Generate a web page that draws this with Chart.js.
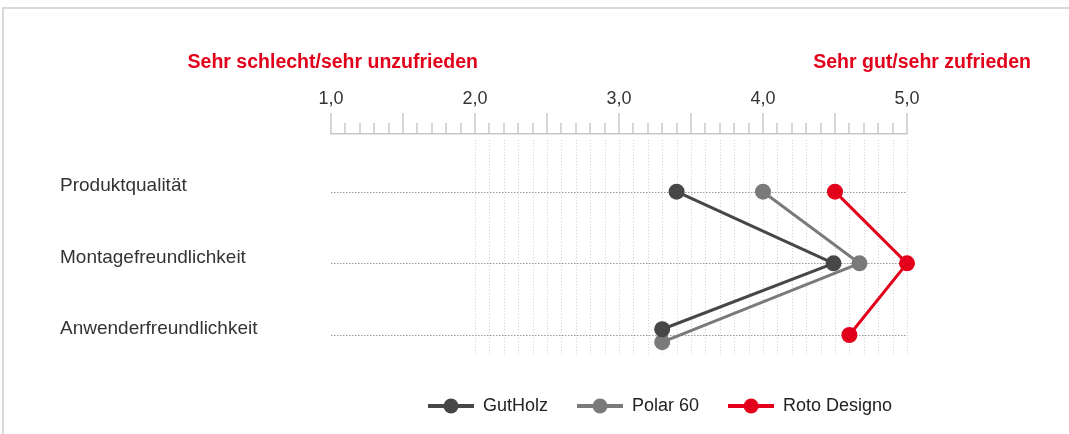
<!DOCTYPE html>
<html>
<head>
<meta charset="utf-8">
<script src="https://cdn.jsdelivr.net/npm/chart.js@4.4.0/dist/chart.umd.min.js"></script>
<style>
  html, body { margin: 0; padding: 0; background: #fff; }
  #wrap { position: relative; width: 1069px; height: 434px; overflow: hidden; }
  #frame { position: absolute; left: 2px; top: 7px; width: 1080px; height: 440px;
           border-top: 2px solid #d9d9d9; border-left: 2px solid #d9d9d9; }
  #chart { position: absolute; left: 0; top: 0; }
</style>
</head>
<body>
<div id="wrap">
  <div id="frame"></div>
  <canvas id="chart" width="1069" height="434"></canvas>
</div>
<script>
// rating scale 1..5, one row per category
const categories = ["Produktqualität", "Montagefreundlichkeit", "Anwenderfreundlichkeit"];
const seriesNames = ["GutHolz", "Polar 60", "Roto Designo"];
const gutholz = [3.4, 4.49, 3.3];
const polar60 = [4.0, 4.67, 3.3];
const rotoDesigno = [4.5, 5.0, 4.6];
const tickLabels = ["1,0", "2,0", "3,0", "4,0", "5,0"];
const scaleLeftText = "Sehr schlecht/sehr unzufrieden";
const scaleRightText = "Sehr gut/sehr zufrieden";

const FONT = '"Liberation Sans", Arial, sans-serif';
const colors = ["#474747", "#7a7a7a", "#e3001b"];
// small vertical nudge so overlapping points in the last row stay visible
const rowNudge = [[0, 0, -0.08], [0, 0, 0.1], [0, 0, 0]];

function makeIcon(color) {
  const c = document.createElement("canvas");
  c.width = 46;
  c.height = 16;
  const g = c.getContext("2d");
  g.strokeStyle = color;
  g.lineWidth = 4;
  g.beginPath();
  g.moveTo(0, 8);
  g.lineTo(46, 8);
  g.stroke();
  g.fillStyle = color;
  g.beginPath();
  g.arc(23, 8, 7.5, 0, Math.PI * 2);
  g.fill();
  return c;
}
const legendIcons = colors.map(makeIcon);

const datasets = [gutholz, polar60, rotoDesigno].map((vals, i) => ({
  label: seriesNames[i],
  data: vals.map((v, r) => ({ x: v, y: r + rowNudge[i][r] })),
  borderColor: colors[i],
  backgroundColor: colors[i],
  pointBackgroundColor: colors[i],
  borderWidth: 3,
  pointRadius: 8,
  pointHoverRadius: 8,
  pointBorderWidth: 0,
  tension: 0,
  clip: false
}));

const isMajor = v => Math.abs(v * 2 - Math.round(v * 2)) < 1e-6;

const decor = {
  id: "decor",
  afterLayout(chart) {
    // place the legend below the right part of the scale
    const lg = chart.legend;
    const w = lg.right - lg.left;
    lg.left = 399;
    lg.right = 399 + w;
  },
  beforeDatasetsDraw(chart) {
    const { ctx } = chart;
    const xs = chart.scales.x, ys = chart.scales.y;
    ctx.save();
    // vertical dotted grid from 2,0 upwards
    ctx.strokeStyle = "#d2d2d2";
    ctx.lineWidth = 1;
    ctx.setLineDash([1, 2]);
    const yTop = ys.getPixelForValue(-0.72), yBot = ys.getPixelForValue(2.28);
    xs.ticks.forEach(t => {
      if (t.value < 2 - 1e-6) return;
      const px = Math.round(xs.getPixelForValue(t.value)) + 0.5;
      ctx.beginPath();
      ctx.moveTo(px, yTop);
      ctx.lineTo(px, yBot);
      ctx.stroke();
    });
    // row lines
    ctx.strokeStyle = "#9a9a9a";
    ctx.setLineDash([1.5, 1.5]);
    categories.forEach((c, r) => {
      const py = Math.round(ys.getPixelForValue(r)) + 0.5;
      ctx.beginPath();
      ctx.moveTo(xs.getPixelForValue(1), py);
      ctx.lineTo(xs.getPixelForValue(5), py);
      ctx.stroke();
    });
    ctx.restore();
  },
  afterDraw(chart) {
    const { ctx } = chart;
    const xs = chart.scales.x;
    ctx.save();
    // tick marks on top scale
    ctx.strokeStyle = "#c8c8c8";
    ctx.lineWidth = 1.5;
    xs.ticks.forEach(t => {
      const px = Math.round(xs.getPixelForValue(t.value));
      const len = isMajor(t.value) ? 21 : 11;
      ctx.beginPath();
      ctx.moveTo(px, xs.bottom);
      ctx.lineTo(px, xs.bottom - len);
      ctx.stroke();
    });
    // red scale end captions
    ctx.fillStyle = "#e3001b";
    ctx.font = "bold 19.5px " + FONT;
    ctx.textBaseline = "middle";
    ctx.textAlign = "right";
    ctx.fillText(scaleLeftText, 478, 63);
    ctx.fillText(scaleRightText, 1031, 63);
    ctx.restore();
  }
};

new Chart(document.getElementById("chart"), {
  type: "line",
  data: { datasets },
  options: {
    responsive: false,
    animation: false,
    layout: { padding: { left: 60, right: 162, top: 80, bottom: 9 } },
    scales: {
      x: {
        type: "linear",
        position: "top",
        min: 1,
        max: 5,
        afterFit: s => { s.height = 54; },
        border: { display: true, color: "#c8c8c8", width: 1.5 },
        grid: { drawOnChartArea: false, drawTicks: true, tickLength: 21, tickColor: "transparent" },
        ticks: {
          stepSize: 0.1,
          autoSkip: false,
          maxRotation: 0,
          padding: 3,
          color: "#333",
          font: { family: FONT, size: 18 },
          callback: v => isMajor(v) && Math.abs(v - Math.round(v)) < 1e-6 ? tickLabels[Math.round(v) - 1] : ""
        }
      },
      y: {
        type: "linear",
        reverse: true,
        min: -0.805,
        max: 2.461,
        afterFit: s => { s.width = 271; },
        afterBuildTicks: s => { s.ticks = categories.map((c, i) => ({ value: i })); },
        border: { display: false },
        grid: { display: false },
        ticks: {
          crossAlign: "far",
          labelOffset: -6,
          color: "#333",
          font: { family: FONT, size: 19 },
          callback: v => categories[v]
        }
      }
    },
    plugins: {
      legend: {
        position: "bottom",
        align: "start",
        labels: {
          usePointStyle: true,
          pointStyleWidth: 46,
          padding: 29,
          color: "#222",
          font: { family: FONT, size: 18 },
          generateLabels: chart => Chart.defaults.plugins.legend.labels.generateLabels(chart)
            .map((l, i) => Object.assign(l, { pointStyle: legendIcons[i], lineWidth: 0 }))
        }
      },
      tooltip: { enabled: false }
    }
  },
  plugins: [decor]
});
</script>
</body>
</html>
